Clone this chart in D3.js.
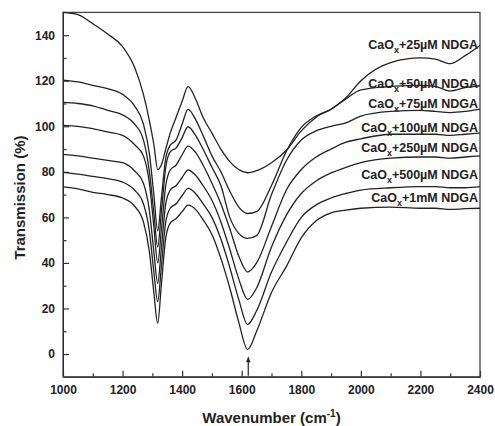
<!DOCTYPE html>
<html>
<head>
<meta charset="utf-8">
<script src="https://cdn.jsdelivr.net/npm/d3@7"></script>
<style>
  body { margin: 0; background: #fff; }
  svg text { font-family: "Liberation Sans", Arial, sans-serif; font-weight: bold; fill: #222; }
</style>
</head>
<body>
<div id="chart"></div>
<script>
// -- DATA -- //
// wavenumber grid (cm-1) shared by all spectra
const wavenumbers = [1000,1050,1100,1150,1200,1240,1270,1290,1305,1318,1330,1345,1360,1380,1400,
    1420,1445,1470,1500,1530,1560,1590,1620,1650,1700,1750,1800,1850,1900,1950,
    2000,2100,2200,2250,2300,2350,2400];

// transmission (%)
const t25uM  = [150,149,145,140.5,135,126,114,102.5,92,81,83,90,97,104,111,
    117.4,112,104,97,90,84.5,81,79.6,80.5,84,89.5,98,104,107.5,112.5,
    120,128,130,129.5,127.5,131,135.5];
const t50uM  = [120.3,119.5,118,116.5,114,109,101,88,70,54,68,86,91.7,94,101,
    107.4,103,96,87,80,71.5,64.5,61.7,62.5,74,89,99.5,104.5,107.5,112,
    116,117.5,118,117.5,115.5,117,117.8];
const t75uM  = [110.5,110,109,107,105,101,94,80,62,47,62,82,88.8,90.5,95,
    99.8,96,90,82,74,60,53,50.8,52,70,85,94,98,100,101.5,
    104.5,106.5,107,106.5,106,106.5,107.5];
const t100uM = [100.4,100,99,97.5,96,92,87,75,56,40,54,74,80.8,83,87.5,
    91.3,88.5,83,75,66,55,43,36,40,56,72,81,86.5,90,93,
    94.5,96.5,96.5,96.5,96,96.5,97];
const t250uM = [87.7,87,86,85,84,80.5,75,63,45,31,46,66,72,74,77.5,
    80.8,78.5,74,67.5,58,46,33,24,29,47,61,70.5,76,79.5,82,
    84,86,86.5,86.5,86,86.5,87];
const t500uM = [79.8,79,78,77,75.5,72,66,54,36,23,38,58,64,66,69.5,
    72.7,70.5,66,60,50.5,38,24,13,19,36,49,60,65.5,68.5,70.5,
    72,73,73.5,73.5,73,73,73.5];
const t1mM   = [73.4,72.5,71,70,68.5,65,58,45,27,13.5,30,51,57.5,59.5,62.5,
    65.4,63.5,59,52.5,42,29,14,2,10,27,38.5,51,58.5,62,63.2,
    64,64.5,64,64,63.5,63.8,64];

const concentrations = ["25\u00B5M","50\u00B5M","75\u00B5M","100\u00B5M","250\u00B5M","500\u00B5M","1mM"];
const spectra = [t25uM, t50uM, t75uM, t100uM, t250uM, t500uM, t1mM];

const xTicks = [1000,1200,1400,1600,1800,2000,2200,2400];
const xMinorTicks = [1100,1300,1500,1700,1900,2100,2300];
const yTicks = [0,20,40,60,80,100,120,140];
const yMinorTicks = [10,30,50,70,90,110,130];

// marker for the 1620 band
const arrowAt = 1622;

// -- CHART -- //
var width = 495;
var height = 426;
var margin = { top: 12.4, right: 15, bottom: 49.2, left: 63 };

const svg = d3.select("#chart")
    .append("svg")
    .attr("width", width)
    .attr("height", height)
    .style("background", "#fff");

const x = d3.scaleLinear()
    .domain([1000, 2400])
    .range([margin.left, width - margin.right]);

const y = d3.scaleLinear()
    .domain([-10, 150])
    .range([height - margin.bottom, margin.top]);

// axes, ticks pointing inward
let xAxis = svg.append("g")
    .attr("transform", "translate(0," + (height - margin.bottom) + ")")
    .call(d3.axisBottom(x).tickValues(xTicks).tickFormat(d3.format("d"))
        .tickSizeInner(-6).tickSizeOuter(0).tickPadding(9));
xAxis.selectAll("text").style("font-size", "12px");

svg.append("g")
    .attr("transform", "translate(0," + (height - margin.bottom) + ")")
    .call(d3.axisBottom(x).tickValues(xMinorTicks).tickFormat("")
        .tickSizeInner(-3.5).tickSizeOuter(0))
    .select(".domain").remove();

let yAxis = svg.append("g")
    .attr("transform", "translate(" + margin.left + ",0)")
    .call(d3.axisLeft(y).tickValues(yTicks)
        .tickSizeInner(-6).tickSizeOuter(0).tickPadding(8));
yAxis.selectAll("text").style("font-size", "12px");

svg.append("g")
    .attr("transform", "translate(" + margin.left + ",0)")
    .call(d3.axisLeft(y).tickValues(yMinorTicks).tickFormat("")
        .tickSizeInner(-3.5).tickSizeOuter(0))
    .select(".domain").remove();

svg.selectAll(".tick line").attr("stroke", "#333").attr("stroke-width", 1.2);

// frame
svg.append("rect")
    .attr("x", x(1000))
    .attr("y", y(150))
    .attr("width", x(2400) - x(1000))
    .attr("height", y(-10) - y(150))
    .attr("fill", "none")
    .attr("stroke", "#444")
    .attr("stroke-width", 1.3);

// spectra
let line = d3.line()
    .x((d, i) => x(wavenumbers[i]))
    .y(d => y(d))
    .curve(d3.curveMonotoneX);

svg.append("g")
    .selectAll("path")
    .data(spectra)
    .enter()
    .append("path")
    .attr("d", line)
    .attr("fill", "none")
    .attr("stroke", "#222")
    .attr("stroke-width", 1.3);

// labels, right aligned at the end of each spectrum (baseline in %)
const labelAt = [133.9, 116.9, 108.1, 97.3, 88.6, 76.8, 66.9];
let labels = svg.append("g")
    .selectAll("text")
    .data(concentrations)
    .enter()
    .append("text")
    .attr("x", width - margin.right - 2)
    .attr("y", (d, i) => y(labelAt[i]))
    .attr("text-anchor", "end")
    .style("font-size", "12.5px");
labels.append("tspan").text("CaO");
labels.append("tspan").attr("dy", 4).style("font-size", "9px").text("x");
labels.append("tspan").attr("dy", -4).text(d => "+" + d + " NDGA");

// arrow under the 1620 band
svg.append("line")
    .attr("x1", x(arrowAt)).attr("x2", x(arrowAt))
    .attr("y1", y(-9.5)).attr("y2", y(-3))
    .attr("stroke", "#222")
    .attr("stroke-width", 1.2);
svg.append("path")
    .attr("d", "M" + x(arrowAt) + "," + y(-1) + " l-2.2,6 l4.4,0 z")
    .attr("fill", "#222");

// axis titles
let xTitle = svg.append("text")
    .attr("x", (x(1000) + x(2400)) / 2)
    .attr("y", height - 3)
    .attr("text-anchor", "middle")
    .style("font-size", "15px");
xTitle.append("tspan").text("Wavenumber (cm");
xTitle.append("tspan").attr("dy", -6).style("font-size", "10px").text("-1");
xTitle.append("tspan").attr("dy", 6).text(")");

svg.append("text")
    .attr("transform", "translate(25," + ((y(-10) + y(150)) / 2 + 3) + ") rotate(-90)")
    .attr("text-anchor", "middle")
    .style("font-size", "15px")
    .text("Transmission (%)");
</script>
</body>
</html>
